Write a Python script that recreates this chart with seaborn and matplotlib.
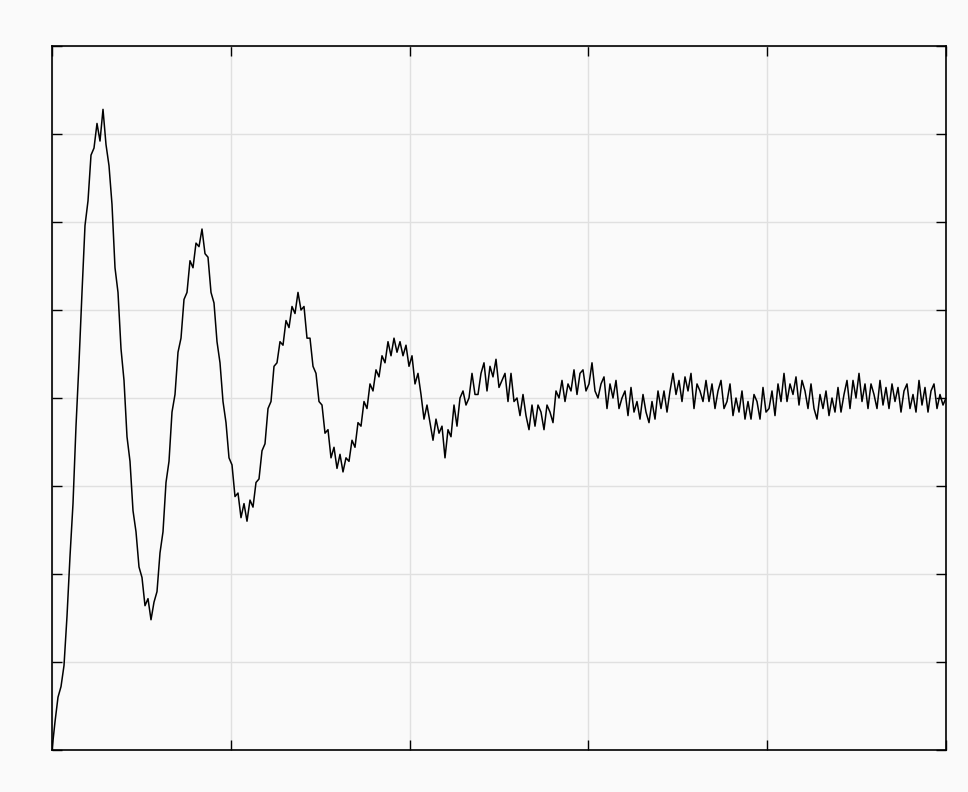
import numpy as np
import seaborn as sns
from matplotlib import pyplot as plt

# noisy step response (one sample every ~3 px)
response = [
    0.00, 0.08, 0.15, 0.18, 0.24, 0.38, 0.55, 0.70, 0.92, 1.10,
    1.30, 1.49, 1.56, 1.69, 1.71, 1.78, 1.73, 1.82, 1.72, 1.66,
    1.55, 1.37, 1.30, 1.14, 1.05, 0.89, 0.82, 0.68, 0.62, 0.52,
    0.49, 0.41, 0.43, 0.37, 0.42, 0.45, 0.56, 0.62, 0.76, 0.82,
    0.96, 1.01, 1.13, 1.17, 1.28, 1.30, 1.39, 1.37, 1.44, 1.43,
    1.48, 1.41, 1.40, 1.30, 1.27, 1.16, 1.10, 0.99, 0.93, 0.83,
    0.81, 0.72, 0.73, 0.66, 0.70, 0.65, 0.71, 0.69, 0.76, 0.77,
    0.85, 0.87, 0.97, 0.99, 1.09, 1.10, 1.16, 1.15, 1.22, 1.20,
    1.26, 1.24, 1.30, 1.25, 1.26, 1.17, 1.17, 1.09, 1.07, 0.99,
    0.98, 0.90, 0.91, 0.83, 0.86, 0.80, 0.84, 0.79, 0.83, 0.82,
    0.88, 0.86, 0.93, 0.92, 0.99, 0.97, 1.04, 1.02, 1.08, 1.06,
    1.12, 1.10, 1.16, 1.12, 1.17, 1.13, 1.16, 1.12, 1.15, 1.09,
    1.12, 1.04, 1.07, 1.01, 0.94, 0.98, 0.93, 0.88, 0.94, 0.90,
    0.92, 0.83, 0.91, 0.89, 0.98, 0.92, 1.00, 1.02, 0.98, 1.00,
    1.07, 1.01, 1.01, 1.07, 1.10, 1.02, 1.09, 1.06, 1.11, 1.03,
    1.05, 1.07, 0.99, 1.07, 0.99, 1.00, 0.95, 1.01, 0.95, 0.91,
    0.98, 0.92, 0.98, 0.96, 0.91, 0.98, 0.96, 0.93, 1.02, 1.00,
    1.05, 0.99, 1.04, 1.02, 1.08, 1.01, 1.07, 1.08, 1.02, 1.04,
    1.10, 1.02, 1.00, 1.04, 1.06, 0.97, 1.04, 1.00, 1.05, 0.97,
    1.00, 1.02, 0.95, 1.03, 0.96, 0.99, 0.94, 1.01, 0.96, 0.93,
    0.99, 0.94, 1.02, 0.97, 1.02, 0.96, 1.02, 1.07, 1.01, 1.05,
    0.99, 1.06, 1.02, 1.07, 0.97, 1.04, 1.02, 0.99, 1.05, 0.99,
    1.04, 0.97, 1.02, 1.05, 0.97, 0.99, 1.04, 0.95, 1.00, 0.96,
    1.02, 0.94, 0.99, 0.94, 1.01, 0.99, 0.94, 1.03, 0.96, 0.97,
    1.02, 0.95, 1.04, 0.99, 1.07, 0.99, 1.04, 1.01, 1.06, 0.98,
    1.05, 1.02, 0.97, 1.04, 0.97, 0.94, 1.01, 0.97, 1.02, 0.95,
    1.00, 0.96, 1.03, 0.96, 1.01, 1.05, 0.97, 1.05, 1.00, 1.07,
    0.99, 1.04, 0.97, 1.04, 1.01, 0.97, 1.05, 0.98, 1.03, 0.97,
    1.04, 0.99, 1.03, 0.96, 1.02, 1.04, 0.97, 1.01, 0.96, 1.05,
    0.98, 1.03, 0.96, 1.02, 1.04, 0.97, 1.01, 0.98, 1.00,
]
t_end = 10.0
x_ticks = [0, 2, 4, 6, 8, 10]
y_ticks = [0, 0.25, 0.5, 0.75, 1.0, 1.25, 1.5, 1.75, 2.0]

time = np.linspace(0, t_end, len(response))

sns.set_style("whitegrid")
bg = "#fafafa"
fig = plt.figure(figsize=(9.68, 7.92), dpi=100, facecolor=bg)
ax = fig.add_axes([52 / 968, 42 / 792, 894 / 968, 704 / 792])
ax.set_facecolor(bg)

sns.lineplot(x=time, y=response, color="black", linewidth=1.1, ax=ax)

ax.set_xlim(0, t_end)
ax.set_ylim(0, 2)
ax.set_xticks(x_ticks)
ax.set_yticks(y_ticks)
ax.set_xticklabels([])
ax.set_yticklabels([])
ax.grid(True, color="#e0e0e0", linewidth=1.0)
ax.tick_params(direction="in", length=7, width=1.0, color="black",
               top=True, right=True, bottom=True, left=True)
for s in ax.spines.values():
    s.set_color("black")
    s.set_linewidth(1.2)
    s.set_visible(True)

fig.savefig("out.png", dpi=100, facecolor=bg)
